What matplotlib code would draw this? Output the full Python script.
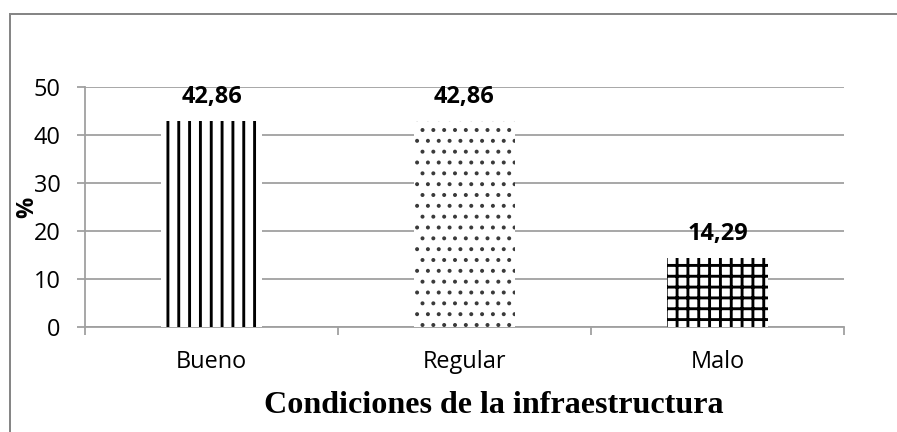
import matplotlib
matplotlib.use("Agg")
import matplotlib.pyplot as plt
from matplotlib.lines import Line2D

categories = ["Bueno", "Regular", "Malo"]
values = [42.86, 42.86, 14.29]
labels = ["42,86", "42,86", "14,29"]
yticks = [0, 10, 20, 30, 40, 50]
hatches = ["||", "..", "++"]
hatch_widths = [1.6, 1.0, 1.6]
xlabel = "Condiciones de la infraestructura"
ylabel = "%"

DPI = 130
W, H = 897, 432
plt.rcParams["hatch.color"] = "black"
plt.rcParams["hatch.linewidth"] = 1.6

fig = plt.figure(figsize=(W / DPI, H / DPI), dpi=DPI)
L, R, T, B = 85, 844, 87, 327
ax = fig.add_axes([L / W, 1 - B / H, (R - L) / W, (B - T) / H])

x = list(range(len(categories)))
bars = ax.bar(x, values, width=0.40, color="white", edgecolor="black",
              linewidth=0, zorder=3)
for b, h, hw in zip(bars, hatches, hatch_widths):
    b.set_hatch(h)
    if hasattr(b, "set_hatch_linewidth"):
        b.set_hatch_linewidth(hw)
    else:
        b._hatch_linewidth = hw
bars[1].set_edgecolor("#3a3a3a")

for xi, v, lab in zip(x, values, labels):
    ax.annotate(lab, (xi, v), xytext=(0, 10), textcoords="offset points",
                ha="center", va="baseline", fontsize=13, fontweight="bold",
                family="Open Sans", zorder=4)

ax.set_xlim(-0.5, len(categories) - 0.5)
ax.set_ylim(0, 50)
ax.set_yticks(yticks)
ax.set_yticklabels([str(t) for t in yticks], family="Open Sans", fontsize=13)
ax.yaxis.grid(True, color="#a0a0a0", linewidth=1.0, zorder=0)
ax.set_axisbelow(True)

ax.set_xticks(x)
ax.set_xticklabels(categories, family="Open Sans", fontsize=13)
ax.set_xticks([i - 0.5 for i in range(len(categories) + 1)], minor=True)
ax.tick_params(axis="x", which="major", length=0, pad=13)
ax.tick_params(axis="x", which="minor", length=8 * 72 / DPI, color="#a0a0a0", width=1.0)
ax.tick_params(axis="y", length=8 * 72 / DPI, color="#a0a0a0", width=1.0, pad=9)

for s in ["top", "right"]:
    ax.spines[s].set_visible(False)
for s in ["left", "bottom"]:
    ax.spines[s].set_color("#a0a0a0")
    ax.spines[s].set_linewidth(1.0)

fig.text(493.5 / W, 1 - 413 / H, xlabel, ha="center", va="baseline",
         family="Liberation Serif", fontweight="bold", fontsize=17.8)
fig.text(27.5 / W, 1 - 207 / H, ylabel, ha="center", va="center", rotation=90,
         family="Open Sans", fontweight="bold", fontsize=13)

# outer border (top and left)
fig.add_artist(Line2D([9.5 / W, 1], [1 - 14 / H, 1 - 14 / H], transform=fig.transFigure,
                      color="#868686", linewidth=1.1))
fig.add_artist(Line2D([9.5 / W, 9.5 / W], [0, 1 - 14 / H], transform=fig.transFigure,
                      color="#868686", linewidth=1.1))

fig.savefig("out.png", dpi=DPI)
